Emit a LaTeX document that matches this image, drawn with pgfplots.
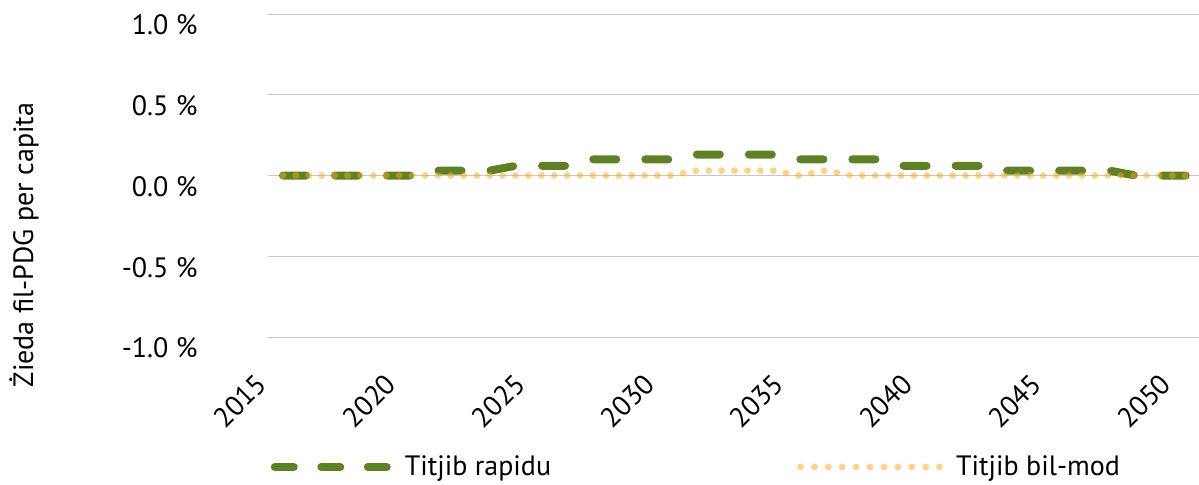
\documentclass[border=0pt]{standalone}
\usepackage{fontspec}
\setmainfont{PT Sans}
\usepackage{pgfplots}
\pgfplotsset{compat=1.18}
\definecolor{grn}{RGB}{93,129,36}
\definecolor{org}{RGB}{255,165,15}
\definecolor{grd}{RGB}{200,200,200}
\begin{document}
\begin{tikzpicture}[font=\fontsize{14}{16.8}\selectfont]
\useasboundingbox (0,0) rectangle (599.5pt,242pt);
\begin{axis}[
  at={(134pt,73.5pt)}, anchor=south west,
  scale only axis, width=465.5pt, height=161.5pt,
  xmin=2014.42, xmax=2050.46, ymin=-1, ymax=1,
  axis line style={draw=none},
  major tick length=0pt,
  xtick={2015,2020,...,2050},
  xticklabels={2015,2020,2025,2030,2035,2040,2045,2050},
  ytick={-1,-0.5,0,0.5,1},
  yticklabels={-1.0 \%,-0.5 \%,0.0 \%,0.5 \%,1.0 \%},
  ymajorgrids, grid style={grd, line width=0.5pt},
  yticklabel style={anchor=east, inner sep=0pt, xshift=-35pt, yshift=-5.5pt},
  xticklabel style={anchor=center, inner sep=0pt, xshift=-21.5pt, yshift=-32pt, rotate=45},
  every axis y label/.style={at={(axis description cs:-0.262,0.285)}, rotate=90, anchor=center},
  ylabel={Żieda fil-PDG per capita},
  legend columns=2,
  legend style={draw=none, fill=none, at={(axis description cs:0.003,-0.4025)}, anchor=west, inner sep=0pt, outer sep=0pt,
    /tikz/every odd column/.append style={column sep=4.5pt},
    /tikz/every even column/.append style={column sep=121pt}},
  clip=false,
]
\addplot[grn, line width=4pt, line cap=round, line join=round, dash pattern=on 11.5pt off 14.5pt,
  legend image code/.code={\draw[grn, line width=4pt, line cap=round, dash pattern=on 9.5pt off 13.75pt] (0pt,0pt) -- (56.5pt,0pt);}]
coordinates {(2015,0)(2016,0)(2017,0)(2018,0)(2019,0)(2020,0)(2021,0.03)(2022,0.03)(2023,0.03)(2024,0.06)(2025,0.06)(2026,0.06)(2027,0.1)(2028,0.1)(2029,0.1)(2030,0.1)(2031,0.13)(2032,0.13)(2033,0.13)(2034,0.13)(2035,0.1)(2036,0.1)(2037,0.1)(2038,0.1)(2039,0.06)(2040,0.06)(2041,0.06)(2042,0.06)(2043,0.03)(2044,0.03)(2045,0.03)(2046,0.03)(2047,0.03)(2048,0)(2049,0)(2050,0)};
\addlegendentry{Titjib rapidu}
\addplot[org, opacity=0.5, line width=3.4pt, line cap=round, dash pattern=on 0pt off 6.4575pt,
  legend image code/.code={\draw[org, opacity=0.5, line width=3.4pt, line cap=round, dash pattern=on 0pt off 6.95pt] (0pt,0pt) -- (69.6pt,0pt);}]
coordinates {(2015,0)(2016,0)(2017,0)(2018,0)(2019,0)(2020,0)(2021,0)(2022,0)(2023,0)(2024,0)(2025,0)(2026,0)(2027,0)(2028,0)(2029,0)(2030,0)(2031,0.03)(2032,0.03)(2033,0.03)(2034,0.03)(2035,0)(2036,0.03)(2037,0)(2038,0)(2039,0)(2040,0)(2041,0)(2042,0)(2043,0)(2044,0)(2045,0)(2046,0)(2047,0)(2048,0)(2049,0)(2050,0)};
\addlegendentry{Titjib bil-mod}
\end{axis}
\end{tikzpicture}
\end{document}
